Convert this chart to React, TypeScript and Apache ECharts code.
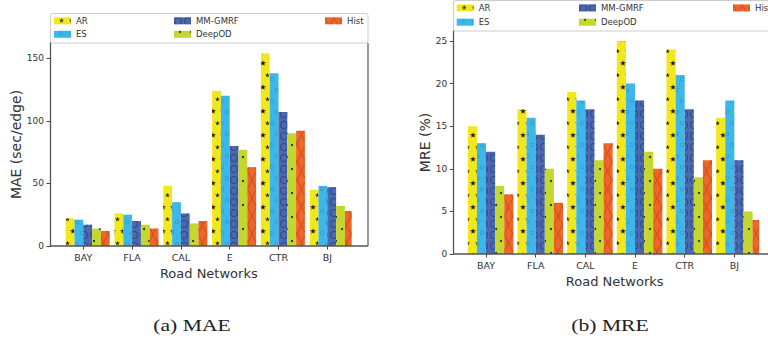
import React, { useEffect, useRef } from 'react';
import * as echarts from 'echarts';

// ---------- data ----------
const categories = ['BAY', 'FLA', 'CAL', 'E', 'CTR', 'BJ'];
const methods = ['AR', 'ES', 'MM-GMRF', 'DeepOD', 'Hist'];

const maeAR = [22, 26, 48, 124, 154, 45];
const maeES = [21, 25, 35, 120, 138, 48];
const maeMM = [17, 20, 26, 80, 107, 47];
const maeDeepOD = [14, 17, 18, 77, 90, 32];
const maeHist = [12, 14, 20, 63, 92, 28];

const mreAR = [15, 17, 19, 25, 24, 16];
const mreES = [13, 16, 18, 20, 21, 18];
const mreMM = [12, 14, 17, 18, 17, 11];
const mreDeepOD = [8, 10, 11, 12, 9, 5];
const mreHist = [7, 6, 13, 10, 11, 4];

const maeTicks = [0, 50, 100, 150];
const mreTicks = [0, 5, 10, 15, 20, 25];

// ---------- styles ----------
const colors = ['#F2E71B', '#3DB7EA', '#4A69B1', '#C3D72F', '#F0662A'];

const STAR = 'path://M50,0 L61,35 L98,35 L68,57 L79,91 L50,70 L21,91 L32,57 L2,35 L39,35 Z';
const RING =
  'path://M0,50 A50,50 0 1 1 100,50 A50,50 0 1 1 0,50 Z M14,50 A36,36 0 1 0 86,50 A36,36 0 1 0 14,50 Z';
const CROSS =
  'path://M0,0 L7,0 L100,93 L100,100 L93,100 L0,7 Z M93,0 L100,0 L100,7 L7,100 L0,100 L0,93 Z';

const decals: any[] = [
  { symbol: STAR, symbolSize: 1, color: '#1a1a1a', dashArrayX: [[6, 4], [0, 5, 5, 0]], dashArrayY: [5.5, 5.5] },
  { symbol: RING, symbolSize: 1, color: 'rgba(30,70,130,0.4)', dashArrayX: [[4, 6], [0, 5, 4, 1]], dashArrayY: [4, 7] },
  { symbol: RING, symbolSize: 1, color: 'rgba(20,30,80,0.45)', dashArrayX: [8, 1.5], dashArrayY: [8, 3] },
  { symbol: 'circle', symbolSize: 1, color: '#1a1a1a', dashArrayX: [[1.6, 8.4], [0, 5, 1.6, 3.4]], dashArrayY: [1.6, 9.4] },
  { symbol: CROSS, symbolSize: 1, symbolKeepAspect: false, color: 'rgba(150,40,0,0.35)', dashArrayX: [9, 0], dashArrayY: [18, 0] },
];

const FONT = 'DejaVu Sans';
const TXT = '#333333';

function barSeries(gridIdx: number, values: number[][], barWidth: number) {
  const out: any[] = [
    {
      name: 'spacer',
      type: 'bar',
      xAxisIndex: gridIdx,
      yAxisIndex: gridIdx,
      barWidth,
      barGap: '0%',
      silent: true,
      data: categories.map(() => '-'),
    },
  ];
  values.forEach((vals, i) => {
    out.push({
      name: methods[i],
      type: 'bar',
      xAxisIndex: gridIdx,
      yAxisIndex: gridIdx,
      barWidth,
      barGap: '0%',
      itemStyle: { color: colors[i], decal: decals[i] },
      data: vals,
    });
  });
  return out;
}

function legendCol(names: string[], left: number, top: number, gap: number) {
  return {
    data: names,
    orient: 'vertical',
    left,
    top,
    itemWidth: 17,
    itemHeight: 7,
    itemGap: gap,
    icon: 'rect',
    padding: 0,
    selectedMode: false,
    z: 5,
    textStyle: { fontFamily: FONT, fontSize: 8.5, color: TXT, lineHeight: 10 },
  };
}

function xAxisDef(gridIdx: number, padLeft: number) {
  return {
    type: 'category',
    gridIndex: gridIdx,
    data: categories,
    boundaryGap: true,
    axisLine: { show: false },
    axisTick: { show: true, alignWithLabel: true, length: 3.5, lineStyle: { color: '#444', width: 1 } },
    axisLabel: { fontFamily: FONT, fontSize: 9.5, color: TXT, margin: 6 },
    name: 'Road Networks',
    nameLocation: 'middle',
    nameGap: 20,
    nameTextStyle: { fontFamily: FONT, fontSize: 13, color: TXT, padding: [0, 0, 0, padLeft] },
  };
}

function yAxisDef(gridIdx: number, name: string, max: number, interval: number, ticks: number[], offset: number, nameGap: number) {
  return {
    type: 'value',
    gridIndex: gridIdx,
    min: 0,
    max,
    interval,
    offset,
    splitLine: { show: false },
    axisLine: { show: true, lineStyle: { color: '#555', width: 1.3 } },
    axisTick: { show: true, length: 3.5, customValues: ticks, lineStyle: { color: '#444', width: 1 } },
    axisLabel: { fontFamily: FONT, fontSize: 9, color: TXT, margin: 6, customValues: ticks },
    name,
    nameLocation: 'middle',
    nameGap,
    nameTextStyle: { fontFamily: FONT, fontSize: 14, color: TXT },
  };
}

export default function App() {
  const ref = useRef<HTMLDivElement>(null);

  useEffect(() => {
    if (!ref.current) return;
    const chart = echarts.init(ref.current, null, { renderer: 'svg' });

    const option: any = {
      animation: false,
      backgroundColor: '#ffffff',
      grid: [
        { left: 58.9, top: 43, width: 292.8, height: 203 },
        { left: 461.2, top: 31, width: 298, height: 223 },
      ],
      xAxis: [xAxisDef(0, 7), xAxisDef(1, 9)],
      yAxis: [
        yAxisDef(0, 'MAE (sec/edge)', 162.2, 50, maeTicks, 8.9, 22),
        yAxisDef(1, 'MRE (%)', 26.17, 5, mreTicks, 7.9, 20),
      ],
      legend: [
        legendCol(['AR', 'ES'], 54, 15.8, 3.5),
        legendCol(['MM-GMRF', 'DeepOD'], 174, 15.8, 3.5),
        legendCol(['Hist'], 325, 15.8, 3.5),
        legendCol(['AR', 'ES'], 456.7, 2.9, 4.3),
        legendCol(['MM-GMRF', 'DeepOD'], 579, 2.9, 4.3),
        legendCol(['Hist'], 733, 2.9, 4.3),
      ],
      series: [
        ...barSeries(0, [maeAR, maeES, maeMM, maeDeepOD, maeHist], 8.8),
        ...barSeries(1, [mreAR, mreES, mreMM, mreDeepOD, mreHist], 9.1),
      ],
      graphic: [
        // legend frames
        { type: 'rect', z: 3, shape: { x: 50.5, y: 13.5, width: 317.5, height: 29.5, r: 2 }, style: { fill: 'rgba(255,255,255,0.85)', stroke: '#cccccc', lineWidth: 1 } },
        { type: 'rect', z: 3, shape: { x: 453.5, y: 0.5, width: 340, height: 30.5, r: 2 }, style: { fill: 'rgba(255,255,255,0.85)', stroke: '#cccccc', lineWidth: 1 } },
        // plot frames
        { type: 'line', z: 4, shape: { x1: 50, y1: 246, x2: 368, y2: 246 }, style: { stroke: '#555', lineWidth: 1.3 } },
        { type: 'line', z: 4, shape: { x1: 368, y1: 43, x2: 368, y2: 246 }, style: { stroke: '#666', lineWidth: 1.3 } },
        { type: 'line', z: 4, shape: { x1: 453.3, y1: 254, x2: 776, y2: 254 }, style: { stroke: '#555', lineWidth: 1.3 } },
        // captions
        { type: 'text', x: 192, y: 326, scaleX: 1.35, style: { text: '(a) MAE', font: '16px "Liberation Serif"', fill: '#222', align: 'center', verticalAlign: 'middle' } },
        { type: 'text', x: 610, y: 326, scaleX: 1.35, style: { text: '(b) MRE', font: '16px "Liberation Serif"', fill: '#222', align: 'center', verticalAlign: 'middle' } },
      ],
    };

    chart.setOption(option);
    return () => chart.dispose();
  }, []);

  return (
    <div
      ref={ref}
      style={{ position: 'fixed', left: 0, top: 0, width: 768, height: 341, background: '#fff' }}
    />
  );
}
